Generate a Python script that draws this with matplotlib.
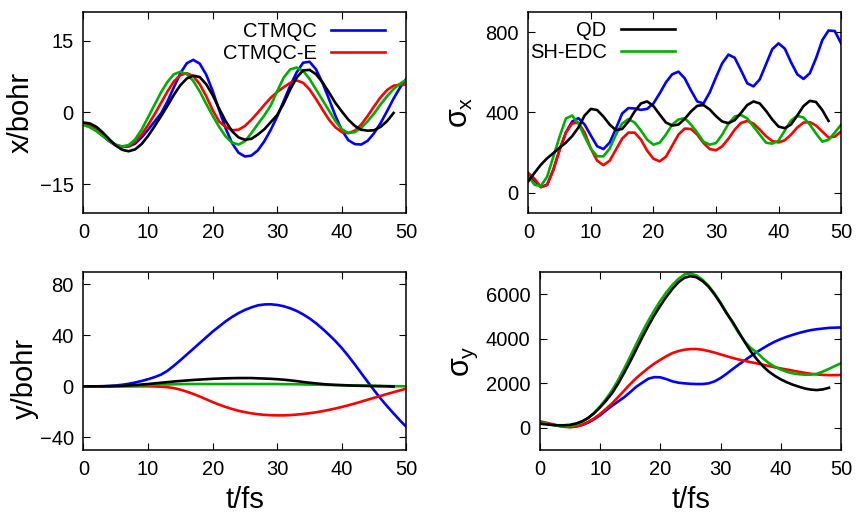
import numpy as np
import matplotlib
matplotlib.use("Agg")
import matplotlib.pyplot as plt

plt.rcParams.update({
    "font.family": ["Liberation Sans", "DejaVu Sans"],
    "mathtext.fontset": "custom",
    "mathtext.rm": "Liberation Sans",
    "mathtext.it": "Liberation Sans",
    "font.size": 14.5,
    "axes.linewidth": 1.1,
})

# time grids (fs); the QD run stops at 48 fs
t = np.arange(0, 51)
t_qd = np.arange(0, 49)

# ---- x position of the nuclear centroid (bohr)
x_ctmqc = [-2.4, -2.9, -3.8, -4.9, -6.0, -6.8, -7.2, -7.1, -6.5, -5.2,
           -3.6, -1.9, -0.2, 2.3, 5.3, 8.2, 10.3, 11.0, 10.2, 7.9,
           4.5, 0.5, -3.3, -6.4, -8.4, -9.2, -9.0, -7.9, -6.0, -3.6,
           -0.8, 2.4, 5.6, 8.4, 10.4, 10.6, 9.0, 6.2, 2.8, -0.7,
           -3.7, -5.8, -6.6, -6.7, -5.9, -4.3, -2.2, 0.3, 2.9, 5.2, 7.1]
x_ctmqce = [-2.3, -2.7, -3.6, -4.8, -6.0, -6.9, -7.2, -7.0, -6.1, -4.6,
            -2.6, -0.4, 2.0, 4.4, 6.5, 7.8, 8.2, 7.6, 5.9, 3.4,
            0.5, -1.9, -3.0, -3.7, -3.6, -2.8, -1.5, 0.0, 1.6, 3.1,
            4.3, 5.3, 6.2, 6.7, 6.2, 4.8, 2.8, 0.6, -1.5, -3.1,
            -4.1, -4.3, -3.8, -2.5, -0.7, 1.3, 3.2, 4.7, 5.6, 5.8, 5.8]
x_qd = [-2.1, -2.3, -3.0, -4.2, -5.6, -6.9, -7.8, -8.1, -7.7, -6.6,
        -4.9, -2.9, -0.8, 1.4, 3.7, 5.7, 7.1, 7.7, 7.4, 5.9,
        3.6, 0.8, -1.8, -3.9, -5.2, -5.7, -5.5, -4.6, -3.5, -2.0,
        -0.5, 1.9, 4.8, 7.3, 8.8, 8.9, 8.0, 6.3, 4.2, 2.0,
        0.2, -1.5, -2.8, -3.6, -3.8, -3.7, -3.0, -1.8, -0.1]
x_shedc = [-2.6, -3.1, -3.9, -4.9, -5.9, -6.7, -7.1, -6.8, -5.6, -3.6,
           -1.0, 1.6, 4.2, 6.4, 8.0, 8.5, 8.0, 6.6, 4.4, 1.8,
           -0.7, -3.0, -5.0, -6.3, -6.7, -6.0, -4.3, -2.4, -0.6, 1.5,
           4.5, 7.3, 9.0, 9.4, 8.7, 7.0, 4.8, 2.6, 0.4, -1.8,
           -3.5, -4.3, -4.1, -3.2, -1.8, -0.2, 1.7, 3.4, 4.9, 6.0, 6.9]

# ---- y position (bohr)
y_ctmqc = [0.0, 0.0, 0.0, 0.1, 0.3, 0.7, 1.2, 2.0, 3.0, 4.2,
           5.6, 7.2, 9.2, 12.2, 16.2, 20.5, 25.0, 29.5, 34.0, 38.5,
           43.0, 47.0, 51.0, 54.5, 57.5, 60.0, 62.0, 63.6, 64.3, 64.4,
           63.9, 62.9, 61.3, 59.2, 56.5, 53.3, 49.5, 45.2, 40.5, 35.5,
           30.0, 23.8, 17.2, 10.3, 3.5, -3.2, -9.6, -15.6, -21.3, -26.8, -32.0]
y_ctmqce = [0.0, 0.0, 0.0, 0.0, 0.0, 0.0, 0.0, 0.0, 0.0, 0.0,
            0.0, -0.1, -0.3, -0.7, -1.4, -2.6, -4.2, -6.0, -8.0, -10.2,
            -12.4, -14.4, -16.2, -17.8, -19.2, -20.3, -21.2, -21.9, -22.4, -22.7,
            -22.8, -22.8, -22.6, -22.2, -21.7, -21.1, -20.4, -19.5, -18.5, -17.4,
            -16.2, -14.9, -13.5, -12.0, -10.5, -9.0, -7.5, -6.0, -4.6, -3.2, -1.8]
y_qd = [0.0, 0.0, 0.0, 0.0, 0.1, 0.2, 0.4, 0.7, 1.0, 1.4,
        1.8, 2.3, 2.8, 3.3, 3.8, 4.2, 4.6, 5.0, 5.3, 5.6,
        5.9, 6.1, 6.3, 6.4, 6.5, 6.5, 6.5, 6.3, 6.1, 5.9,
        5.6, 5.2, 4.7, 4.1, 3.4, 2.8, 2.3, 1.8, 1.4, 1.1,
        0.9, 0.7, 0.5, 0.4, 0.3, 0.2, 0.1, 0.0, -0.2]
y_shedc = [0.0, 0.0, 0.0, 0.0, 0.1, 0.2, 0.3, 0.4, 0.6, 0.8,
           1.0, 1.2, 1.4, 1.5, 1.6, 1.7, 1.8, 1.8, 1.8, 1.8,
           1.8, 1.8, 1.8, 1.8, 1.8, 1.8, 1.8, 1.8, 1.8, 1.8,
           1.8, 1.7, 1.7, 1.6, 1.5, 1.4, 1.3, 1.2, 1.1, 1.0,
           0.9, 0.8, 0.7, 0.6, 0.5, 0.4, 0.3, 0.2, 0.1, 0.1, 0.0]

# ---- spread along x
sx_ctmqc = [95, 60, 30, 40, 115, 215, 300, 355, 372, 340,
            285, 232, 218, 250, 320, 395, 422, 420, 413, 418,
            445, 495, 550, 590, 603, 570, 510, 455, 445, 500,
            575, 645, 688, 672, 610, 545, 530, 565, 640, 715,
            744, 718, 650, 590, 567, 595, 670, 760, 808, 805, 744]
sx_ctmqce = [99, 70, 28, 40, 115, 215, 300, 345, 350, 300,
             220, 160, 138, 160, 215, 270, 300, 300, 265, 210,
             170, 157, 180, 235, 290, 320, 318, 290, 248, 218,
             212, 232, 270, 315, 348, 358, 345, 315, 282, 258,
             251, 262, 290, 325, 350, 352, 335, 305, 275, 280, 306]
sx_qd = [58, 100, 140, 172, 198, 225, 250, 282, 325, 385,
         418, 412, 380, 340, 312, 318, 355, 405, 445, 455,
         432, 390, 350, 335, 340, 368, 405, 433, 437, 415,
         382, 355, 347, 362, 398, 437, 455, 445, 408, 365,
         330, 322, 340, 385, 432, 458, 452, 412, 358]
sx_shedc = [83, 40, 35, 80, 180, 280, 370, 385, 345, 280,
            220, 182, 182, 220, 290, 345, 367, 350, 310, 265,
            240, 250, 290, 340, 365, 372, 340, 300, 255, 240,
            248, 290, 345, 380, 388, 370, 330, 290, 250, 245,
            260, 310, 360, 383, 375, 340, 295, 255, 264, 300, 339]

# ---- spread along y
sy_ctmqc = [225, 190, 140, 90, 50, 40, 60, 120, 230, 380,
            560, 780, 990, 1180, 1370, 1600, 1840, 2020, 2200, 2270,
            2260, 2180, 2080, 2020, 1990, 1970, 1960, 1960, 1990, 2080,
            2230, 2420, 2630, 2830, 3020, 3210, 3390, 3560, 3720, 3860,
            3980, 4080, 4170, 4250, 4320, 4380, 4420, 4450, 4480, 4490, 4500]
sy_ctmqce = [285, 230, 160, 90, 40, 20, 50, 130, 260, 420,
             620, 850, 1100, 1380, 1670, 1960, 2230, 2460, 2680, 2880,
             3050, 3210, 3350, 3440, 3500, 3530, 3530, 3500, 3440, 3370,
             3290, 3210, 3130, 3060, 3000, 2940, 2890, 2830, 2770, 2710,
             2660, 2610, 2560, 2510, 2460, 2420, 2390, 2370, 2360, 2360, 2365]
sy_qd = [180, 150, 125, 110, 110, 130, 190, 290, 440, 650,
         920, 1220, 1560, 1990, 2470, 2980, 3520, 4060, 4570, 5050,
         5480, 5880, 6230, 6530, 6730, 6800, 6750, 6580, 6330, 5980,
         5580, 5130, 4750, 4300, 3850, 3430, 3080, 2770, 2520, 2330,
         2170, 2040, 1930, 1840, 1760, 1710, 1690, 1720, 1790]
sy_shedc = [225, 180, 130, 90, 70, 80, 140, 260, 430, 670,
            960, 1300, 1690, 2150, 2660, 3200, 3760, 4300, 4800, 5270,
            5700, 6080, 6410, 6680, 6880, 6920, 6830, 6640, 6370, 6020,
            5610, 5160, 4700, 4250, 3880, 3580, 3390, 3120, 2900, 2740,
            2610, 2510, 2440, 2400, 2380, 2380, 2420, 2520, 2640, 2770, 2890]

BLUE, RED, BLACK, GREEN = "#0000ff", "#ff0000", "#000000", "#00b000"
LW = 1.9


def style_axes(ax, ylim, yticks):
    ax.set_xlim(0, 50)
    ax.set_ylim(*ylim)
    ax.set_xticks([0, 10, 20, 30, 40, 50])
    ax.set_yticks(yticks)
    ax.tick_params(direction="in", top=True, right=True, length=5, width=0.8,
                   pad=7, labelsize=14.5)


def draw(ax, series_x, series_y, series_z, series_w):
    ax.plot(t, series_x, color=BLUE, lw=LW, label="CTMQC")
    ax.plot(t, series_y, color=RED, lw=LW, label="CTMQC-E")
    ax.plot(t, series_w, color=GREEN, lw=LW, label="SH-EDC")
    ax.plot(t_qd, series_z, color=BLACK, lw=LW, label="QD")


fig = plt.figure(figsize=(8.57, 5.12), dpi=100)
ax1 = fig.add_axes([0.0974, 0.584, 0.3769, 0.3926])
ax2 = fig.add_axes([0.6165, 0.584, 0.3649, 0.3926])
ax3 = fig.add_axes([0.0974, 0.1211, 0.3769, 0.3482])
ax4 = fig.add_axes([0.6301, 0.1211, 0.3512, 0.3482])

draw(ax1, x_ctmqc, x_ctmqce, x_qd, x_shedc)
style_axes(ax1, (-21, 21), [-15, 0, 15])
ax1.set_ylabel("x/bohr", fontsize=21)
ax1.yaxis.set_label_coords(-0.150, 0.5)

draw(ax2, sx_ctmqc, sx_ctmqce, sx_qd, sx_shedc)
style_axes(ax2, (-100, 900), [0, 400, 800])
ax2.set_ylabel(r"$\sigma_{\mathrm{x}}$", fontsize=22)
ax2.yaxis.set_label_coords(-0.170, 0.5)

draw(ax3, y_ctmqc, y_ctmqce, y_qd, y_shedc)
style_axes(ax3, (-50, 90), [-40, 0, 40, 80])
ax3.set_ylabel("y/bohr", fontsize=21)
ax3.yaxis.set_label_coords(-0.137, 0.40)
ax3.set_xlabel("t/fs", fontsize=21)
ax3.xaxis.set_label_coords(0.5, -0.20)

draw(ax4, sy_ctmqc, sy_ctmqce, sy_qd, sy_shedc)
style_axes(ax4, (-1000, 7000), [0, 2000, 4000, 6000])
ax4.set_ylabel(r"$\sigma_{\mathrm{y}}$", fontsize=22)
ax4.yaxis.set_label_coords(-0.199, 0.5)
ax4.set_xlabel("t/fs", fontsize=21)
ax4.xaxis.set_label_coords(0.5, -0.20)

# split legend: CTMQC pair in the first panel, QD / SH-EDC in the second
h1, l1 = ax1.get_legend_handles_labels()
leg_kw = dict(frameon=False, markerfirst=False, handlelength=2.7,
              handletextpad=0.7, labelspacing=0.15, borderpad=0,
              borderaxespad=0, fontsize=14.5, loc="upper right",
              bbox_transform=fig.transFigure)
ax1.legend([h1[0], h1[1]], [l1[0], l1[1]],
           bbox_to_anchor=(385 / 857, 1 - 22 / 512), **leg_kw)
h2, l2 = ax2.get_legend_handles_labels()
ax2.legend([h2[3], h2[2]], [l2[3], l2[2]],
           bbox_to_anchor=(675 / 857, 1 - 21 / 512), **leg_kw)

fig.savefig("out.png", dpi=100)
